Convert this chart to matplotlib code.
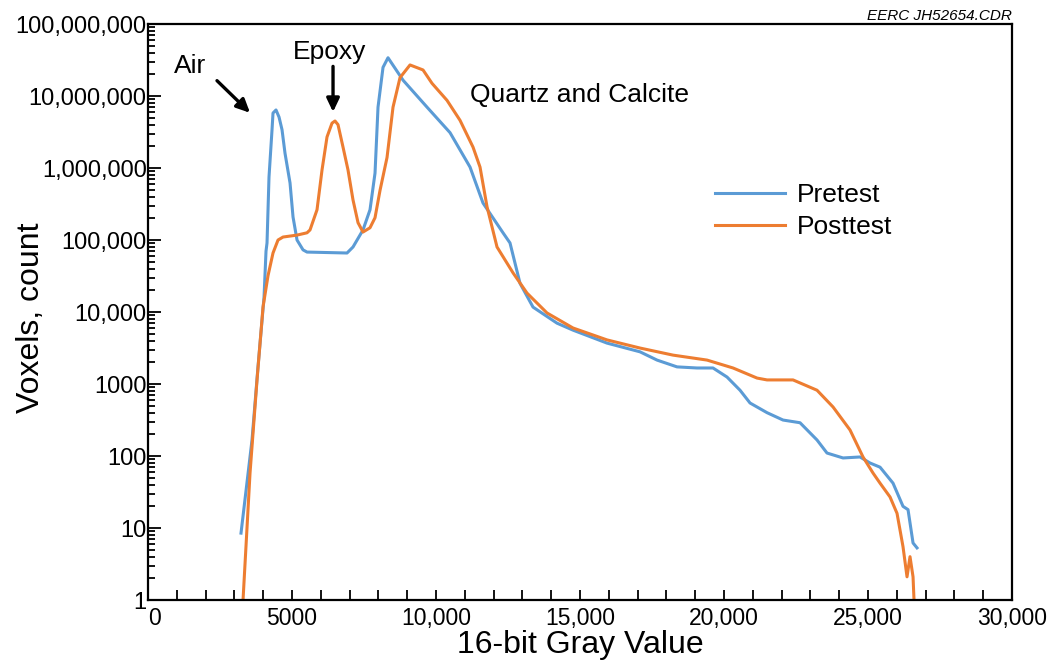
import matplotlib
matplotlib.use("Agg")
import matplotlib.pyplot as plt
from matplotlib.ticker import FixedLocator, MultipleLocator, FuncFormatter, LogLocator, NullFormatter

plt.rcParams['font.family'] = ['Liberation Sans', 'DejaVu Sans']

# Pretest histogram (gray value, voxel count)
pre_x = [3229, 3611, 3819, 4028, 4097, 4132, 4201, 4306, 4340, 4444, 4549, 4653, 4757, 4931,
         5035, 5174, 5382, 5521, 6910, 7118, 7465, 7708, 7882, 7986, 8160, 8333, 8854, 9688,
         10486, 11181, 11632, 12326, 12569, 12917, 13368, 14201, 14757, 15937, 17083, 17674,
         18368, 19062, 19618, 20104, 20556, 20903, 21493, 22049, 22639, 23229, 23576, 24132,
         24722, 25069, 25417, 25868, 26215, 26389, 26563, 26701]
pre_y = [8.5, 167, 1730, 16000, 70000, 91000, 750000, 3.4e6, 5.8e6, 6.4e6, 5.1e6, 3.4e6,
         1.6e6, 620000, 209000, 100000, 73000, 68000, 66000, 80000, 138000, 263000, 850000,
         7e6, 2.5e7, 3.4e7, 1.66e7, 7e6, 3.1e6, 1.03e6, 326000, 126000, 91000, 25000, 11700,
         7000, 5600, 3700, 2800, 2150, 1730, 1670, 1670, 1250, 820, 545, 400, 316, 290, 167,
         110, 94, 97, 80, 70, 42, 20, 18, 6.2, 5.3]

# Posttest histogram
post_x = [3299, 3542, 3785, 3993, 4167, 4340, 4514, 4688, 5174, 5521, 5625, 5868, 6042, 6215,
          6389, 6493, 6597, 6771, 6944, 7118, 7292, 7465, 7708, 7882, 8056, 8299, 8507, 8750,
          9097, 9549, 9861, 10382, 10833, 11285, 11528, 11771, 12118, 12674, 13160, 13854,
          14757, 15937, 17083, 18229, 19410, 20313, 21146, 21493, 22396, 23229, 23785, 24375,
          24826, 25174, 25417, 25764, 26007, 26215, 26354, 26458, 26563, 26597]
post_y = [1, 58, 1140, 11700, 32000, 66000, 100000, 110000, 117000, 126000, 138000, 263000,
          940000, 2.7e6, 4.2e6, 4.5e6, 4e6, 1.95e6, 940000, 360000, 174000, 129000, 148000,
          204000, 490000, 1.4e6, 7e6, 1.8e7, 2.7e7, 2.3e7, 1.5e7, 8.7e6, 4.6e6, 1.95e6,
          1.03e6, 290000, 80000, 35000, 18300, 9700, 6000, 4100, 3160, 2520, 2150, 1670, 1210,
          1140, 1140, 820, 480, 230, 97, 58, 42, 27, 16, 5.5, 2.1, 4, 2.1, 1]

x_ticks = [0, 5000, 10000, 15000, 20000, 25000, 30000]
y_ticks = [1, 10, 100, 1000, 10000, 100000, 1000000, 10000000, 100000000]

fig = plt.figure(figsize=(10.52, 6.65), dpi=100)
ax = fig.add_axes([0.1407, 0.0977, 0.8213, 0.8662])

ax.plot(pre_x, pre_y, color='#5B9BD5', lw=2.2, label='Pretest', solid_joinstyle='round')
ax.plot(post_x, post_y, color='#ED7D31', lw=2.2, label='Posttest', solid_joinstyle='round')

ax.set_yscale('log')
ax.set_xlim(0, 30000)
ax.set_ylim(1, 1e8)

ax.xaxis.set_major_locator(FixedLocator(x_ticks))
ax.xaxis.set_minor_locator(MultipleLocator(1000))
ax.xaxis.set_major_formatter(FuncFormatter(lambda v, p: '0' if v == 0 else (f'{int(v):,}' if v >= 10000 else str(int(v)))))
ax.yaxis.set_major_locator(FixedLocator(y_ticks))
ax.yaxis.set_minor_locator(LogLocator(base=10, subs=range(2, 10), numticks=20))
ax.yaxis.set_minor_formatter(NullFormatter())
ax.yaxis.set_major_formatter(FuncFormatter(lambda v, p: f'{int(round(v)):,}' if v >= 10000 else str(int(round(v)))))

ax.tick_params(axis='both', which='both', direction='in', top=False, right=False, width=1.3, colors='black')
ax.tick_params(axis='x', which='both', length=7, labelsize=16.5, pad=5)
ax.tick_params(axis='y', which='major', length=9, labelsize=17, pad=1)
ax.tick_params(axis='y', which='minor', length=5)
for s in ax.spines.values():
    s.set_linewidth(1.6)

ax.set_xlabel('16-bit Gray Value', fontsize=23, labelpad=0)
ax.set_ylabel('Voxels, count', fontsize=23)
ax.yaxis.set_label_coords(-0.118, 0.49)

ax.text(1458, 2.6e7, 'Air', fontsize=19, ha='center', va='center')
ax.annotate('', xy=(3611, 10**6.74), xytext=(2326, 10**7.24),
            arrowprops=dict(arrowstyle='-|>,head_width=0.38,head_length=0.8', color='black', lw=2.4))
ax.text(6319, 4.1e7, 'Epoxy', fontsize=19, ha='center', va='center')
ax.annotate('', xy=(6424, 10**6.74), xytext=(6424, 10**7.45),
            arrowprops=dict(arrowstyle='-|>,head_width=0.38,head_length=0.8', color='black', lw=2.4))
ax.text(11181, 10**7.01, 'Quartz and Calcite', fontsize=19, ha='left', va='center')

leg = ax.legend(loc='center left', bbox_to_anchor=(0.656, 0.675), frameon=False, fontsize=19,
                handlelength=2.65, handletextpad=0.45, labelspacing=0.3,
                borderpad=0, borderaxespad=0)

fig.text(0.962, 0.987, 'EERC JH52654.CDR', fontsize=11, style='italic', ha='right', va='top')

fig.canvas.draw()
xl = ax.get_xticklabels()
xl[0].set_horizontalalignment('left')
xl[0].set_x(xl[0].get_position()[0])
ax.set_xticks(x_ticks)
ax.set_xticklabels([t.get_text() for t in xl])
ax.get_xticklabels()[0].set_horizontalalignment('left')

fig.savefig('out.png', dpi=100)
